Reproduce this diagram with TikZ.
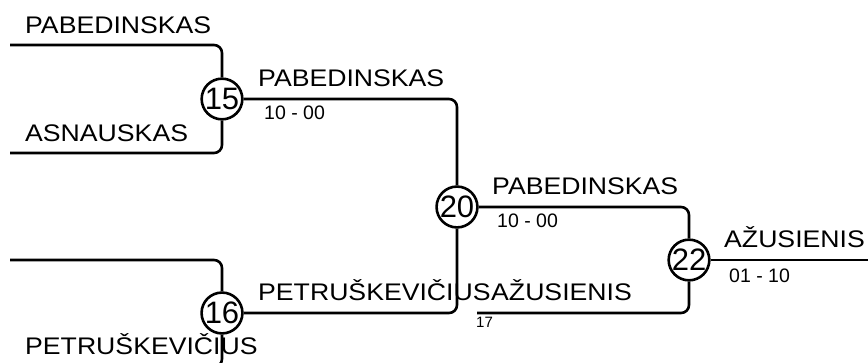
\documentclass[tikz,border=0pt]{standalone}
\usepackage{fontspec}
\setmainfont{Liberation Sans}
\newfontfamily\namefont{Liberation Sans}[FakeStretch=1.11]
\begin{document}
\begin{tikzpicture}[x=1pt,y=-1pt,
  wire/.style={line width=2.6pt, rounded corners=8pt},
  matchc/.style={circle, draw, line width=2.6pt, minimum size=38pt, inner sep=0pt, fill=white, font=\fontsize{31}{32}\selectfont},
  namelbl/.style={anchor=base west, inner sep=0pt, font=\namefont\fontsize{24}{28}\selectfont},
  scorelbl/.style={anchor=base west, inner sep=0pt, font=\fontsize{19.5}{22}\selectfont},
  smalllbl/.style={anchor=base west, inner sep=0pt, font=\fontsize{15}{18}\selectfont}]
\useasboundingbox (0,0) rectangle (868,363);
\clip (0,0) rectangle (868,363);
% matches
\node[matchc] (c15) at (222,99) {15};
\node[matchc] (c16) at (222,313) {16};
\node[matchc] (c20) at (457,207) {20};
\node[matchc] (c22) at (689,260) {22};
% free ends
\coordinate (p1) at (10,45);
\coordinate (p2) at (10,153);
\coordinate (p3) at (10,260);
\coordinate (p4) at (10,367);
\coordinate (m17) at (477,313);
\coordinate (fin) at (868,260);
% wires
\draw[wire] (p1) -| (c15.north);
\draw[wire] (p2) -| (c15.south);
\draw[wire] (p3) -| (c16.north);
\draw[wire] (p4) -| (c16.south);
\draw[wire] (c15.east) -| (c20.north);
\draw[wire] (c16.east) -| (c20.south);
\draw[wire] (c20.east) -| (c22.north);
\draw[wire] (m17) -| (c22.south);
\draw[wire] (c22.east) -- (fin);
% labels
\node[namelbl] (n1) at (25,34) {PABEDINSKAS};
\node[namelbl] (n2) at (25,142) {ASNAUSKAS};
\node[namelbl] (n3) at (258,87) {PABEDINSKAS};
\node[scorelbl] (s3) at (264,120) {10 - 00};
\node[namelbl] (n4) at (25,355) {PETRUŠKEVIČIUS};
\node[namelbl] (n5) at (258,301) {PETRUŠKEVIČIUS};
\node[namelbl] (n6) at (492,195) {PABEDINSKAS};
\node[scorelbl] (s6) at (497,228) {10 - 00};
\node[namelbl] (n7) at (491,301) {AŽUSIENIS};
\node[smalllbl] (s7) at (476,328) {17};
\node[namelbl] (n8) at (724,248) {AŽUSIENIS};
\node[scorelbl] (s8) at (729,283) {01 - 10};
\end{tikzpicture}
\end{document}
